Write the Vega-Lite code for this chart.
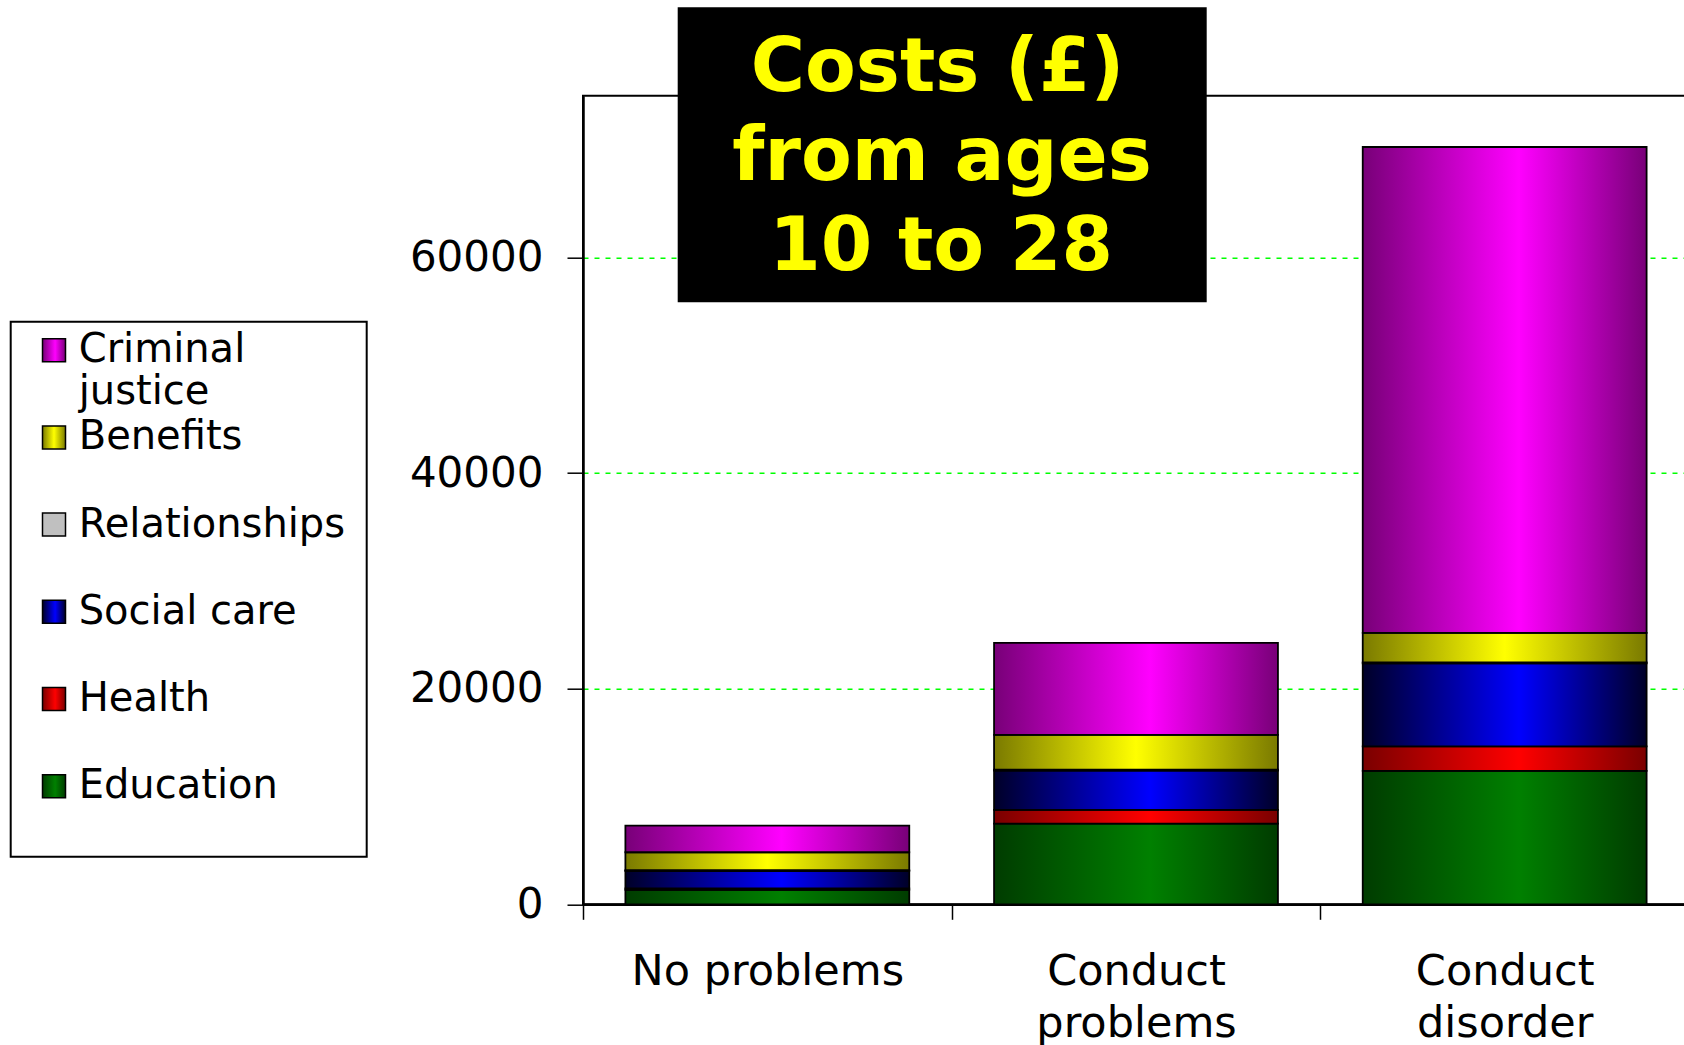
{
  "$schema": "https://vega.github.io/schema/vega-lite/v6.json",
  "width": 1106,
  "height": 808.6,
  "autosize": {"type": "none"},
  "padding": {"left": 583, "top": 95.7, "right": -5, "bottom": 140.7},
  "background": "white",
  "config": {
    "font": "DejaVu Sans",
    "view": {"stroke": "black", "strokeWidth": 2}
  },
  "data": {
    "values": [
      {"group": "No problems", "type": "Education", "cost": 1330},
      {"group": "No problems", "type": "Health", "cost": 140},
      {"group": "No problems", "type": "Social care", "cost": 1620},
      {"group": "No problems", "type": "Relationships", "cost": 80},
      {"group": "No problems", "type": "Benefits", "cost": 1660},
      {"group": "No problems", "type": "Criminal justice", "cost": 2470},
      {"group": "Conduct problems", "type": "Education", "cost": 7490},
      {"group": "Conduct problems", "type": "Health", "cost": 1270},
      {"group": "Conduct problems", "type": "Social care", "cost": 3640},
      {"group": "Conduct problems", "type": "Relationships", "cost": 100},
      {"group": "Conduct problems", "type": "Benefits", "cost": 3220},
      {"group": "Conduct problems", "type": "Criminal justice", "cost": 8520},
      {"group": "Conduct disorder", "type": "Education", "cost": 12380},
      {"group": "Conduct disorder", "type": "Health", "cost": 2260},
      {"group": "Conduct disorder", "type": "Social care", "cost": 7700},
      {"group": "Conduct disorder", "type": "Relationships", "cost": 100},
      {"group": "Conduct disorder", "type": "Benefits", "cost": 2730},
      {"group": "Conduct disorder", "type": "Criminal justice", "cost": 45070}
    ]
  },
  "transform": [
    {"calculate": "indexof(['Education','Health','Social care','Relationships','Benefits','Criminal justice'], datum.type)", "as": "stackRank"}
  ],
  "layer": [
    {
      "mark": {"type": "bar", "stroke": "black", "strokeWidth": 1.8},
      "encoding": {
        "x": {
          "field": "group",
          "type": "nominal",
          "sort": ["No problems", "Conduct problems", "Conduct disorder"],
          "scale": {"paddingInner": 0.23, "paddingOuter": 0.115},
          "axis": {
            "title": null,
            "labelAngle": 0,
            "labelFont": "DejaVu Sans",
            "labelFontSize": 43,
            "labelColor": "black",
            "labelLimit": 600,
            "labelBaseline": "top",
            "labelLineHeight": 52,
            "labelPadding": 31,
            "labelExpr": "datum.label == 'No problems' ? datum.label : split(datum.label, ' ')",
            "tickOffset": -184.33,
            "labelOffset": 184.33,
            "tickSize": 15,
            "tickColor": "black",
            "tickWidth": 1.5,
            "domainColor": "black",
            "domainWidth": 2.5,
            "grid": false
          }
        },
        "y": {
          "field": "cost",
          "type": "quantitative",
          "stack": "zero",
          "scale": {"domain": [0, 75000], "nice": false},
          "axis": {
            "title": null,
            "values": [0, 20000, 40000, 60000],
            "format": "d",
            "labelFont": "DejaVu Sans",
            "labelFontSize": 42,
            "labelColor": "black",
            "labelPadding": 24,
            "tickSize": 16,
            "tickColor": "black",
            "tickWidth": 1.5,
            "domainColor": "black",
            "domainWidth": 2.5,
            "grid": true,
            "gridColor": "#00ff00",
            "gridDash": [5, 6],
            "gridWidth": 1.5
          }
        },
        "color": {
          "field": "type",
          "type": "nominal",
          "scale": {
            "domain": ["Criminal justice", "Benefits", "Relationships", "Social care", "Health", "Education"],
            "range": [
              {"expr": "{gradient: 'linear', x1: 0, y1: 0, x2: 1, y2: 0, stops: [{offset: 0, color: '#780078'}, {offset: 0.55, color: '#ff00ff'}, {offset: 1, color: '#780078'}]}"},
              {"expr": "{gradient: 'linear', x1: 0, y1: 0, x2: 1, y2: 0, stops: [{offset: 0, color: '#7a7a00'}, {offset: 0.5, color: '#ffff00'}, {offset: 1, color: '#7a7a00'}]}"},
              "#c0c0c0",
              {"expr": "{gradient: 'linear', x1: 0, y1: 0, x2: 1, y2: 0, stops: [{offset: 0, color: '#000028'}, {offset: 0.55, color: '#0000ff'}, {offset: 1, color: '#000028'}]}"},
              {"expr": "{gradient: 'linear', x1: 0, y1: 0, x2: 1, y2: 0, stops: [{offset: 0, color: '#7a0000'}, {offset: 0.55, color: '#ff0000'}, {offset: 1, color: '#7a0000'}]}"},
              {"expr": "{gradient: 'linear', x1: 0, y1: 0, x2: 1, y2: 0, stops: [{offset: 0, color: '#003c00'}, {offset: 0.55, color: '#008000'}, {offset: 1, color: '#003c00'}]}"}
            ]
          },
          "legend": {
            "title": null,
            "orient": "none",
            "legendX": -572.3,
            "legendY": 226,
            "padding": 8.5,
            "strokeColor": "black",
            "fillColor": "white",
            "symbolType": "square",
            "symbolSize": 529,
            "symbolStrokeColor": "black",
            "symbolStrokeWidth": 1.5,
            "symbolOffset": 14.8,
            "labelOffset": 4.7,
            "labelFont": "DejaVu Sans",
            "labelFontSize": 40,
            "labelColor": "black",
            "labelLimit": 600,
            "labelLineHeight": 41,
            "labelBaseline": "middle",
            "rowPadding": 5.2,
            "labelExpr": "datum.label == 'Criminal justice' ? ['Criminal', 'justice'] : datum.label == 'Relationships' ? ['Relationships\u00a0\u200b', ''] : [datum.label, '']",
            "encode": {
              "legend": {"update": {"strokeWidth": {"value": 2}}}
            }
          }
        },
        "order": {"field": "stackRank", "type": "quantitative"}
      }
    },
    {
      "mark": {"type": "point", "opacity": 0},
      "encoding": {
        "shape": {
          "field": "group",
          "type": "nominal",
          "legend": {
            "title": ["\u200b\u2002\u2005Costs (£)", "\u200b\u2002from ages\u2002\u200b", "\u200b\u200310 to 28"],
            "values": [],
            "orient": "none",
            "legendX": 94.7,
            "legendY": -88.4,
            "padding": 17.5,
            "fillColor": "black",
            "titleFont": "DejaVu Sans",
            "titleFontSize": 74,
            "titleFontWeight": "bold",
            "titleColor": "#ffff00",
            "titleLineHeight": 89.5,
            "titleAlign": "left",
            "titleAnchor": "start",
            "titleBaseline": "line-top",
            "titleLimit": 2000,
            "titlePadding": 0
          }
        }
      }
    }
  ]
}
